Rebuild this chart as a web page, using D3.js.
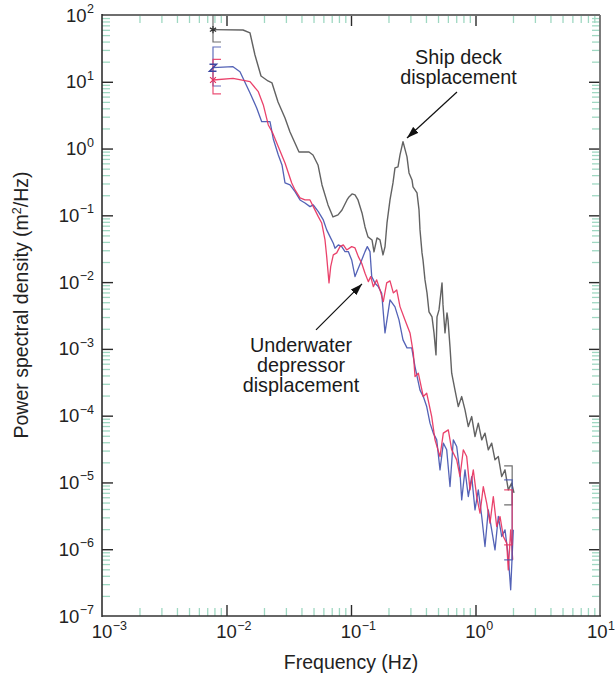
<!DOCTYPE html>
<html><head><meta charset="utf-8">
<script src="https://cdn.jsdelivr.net/npm/d3@7"></script>
<style>
body{margin:0;background:#fff}
svg{display:block;font-family:"Liberation Sans",Arial,Helvetica,sans-serif}
</style>
</head><body>
<svg id="chart" width="616" height="675"></svg>
<script>
// ---------------- data ----------------
const shipFreq=[0.00779,0.01357,0.01545,0.01693,0.01893,0.02154,0.0232,0.02593,0.02951,0.03236,0.03822,0.04599,0.04952,0.05432,0.05849,0.06536,0.07168,0.07864,0.08467,0.09288,0.09636,0.1019,0.1077,0.1138,0.1226,0.1296,0.1369,0.1475,0.1530,0.1617,0.1709,0.1807,0.1875,0.1946,0.2057,0.2174,0.2256,0.2385,0.2475,0.2616,0.2817,0.2924,0.3090,0.3148,0.3390,0.3518,0.3583,0.3718,0.3787,0.3929,0.4078,0.4232,0.4473,0.4642,0.4816,0.4907,0.5092,0.5383,0.5483,0.5689,0.5904,0.6014,0.6240,0.6439,0.6844,0.7275,0.7749,0.8235,0.8753,0.9322,0.9908,1.053,1.122,1.192,1.267,1.349,1.434,1.525,1.624,1.726,1.834,1.953,2.038];
const shipPsd=[60.3,59.6,53.8,25.2,12.2,10.28,9.59,4.985,2.872,1.772,0.8895,0.8895,0.802,0.568,0.285,0.1432,0.0946,0.1014,0.1204,0.170,0.1885,0.2091,0.2020,0.170,0.1086,0.0670,0.0475,0.0428,0.02832,0.0459,0.0428,0.02554,0.03363,0.0769,0.170,0.3055,0.5124,0.5305,0.802,1.268,0.7488,0.4311,0.3388,0.2661,0.2164,0.1204,0.0605,0.02736,0.0215,0.01079,0.00689,0.00358,0.003013,0.001736,0.000813,0.003013,0.003836,0.00973,0.004558,0.001736,0.003458,0.002717,0.001071,4.327e-4,2.413e-4,1.369e-4,1.931e-4,1.221e-4,6.87e-5,9.69e-5,4.87e-5,7.72e-5,4.34e-5,5.47e-5,3.08e-5,3.88e-5,2.18e-5,2.44e-5,1.226e-5,1.544e-5,7.75e-6,9.76e-6,6.99e-6];

const blueFreq=[0.00779,0.01128,0.01283,0.01545,0.01748,0.01918,0.02236,0.02376,0.02607,0.02791,0.02951,0.03236,0.0355,0.03894,0.0427,0.04685,0.0498,0.05462,0.05991,0.0638,0.06782,0.07208,0.07439,0.07907,0.0842,0.08951,0.09513,0.1013,0.1077,0.1145,0.1219,0.1296,0.1352,0.1421,0.1467,0.1559,0.1656,0.1764,0.1875,0.2057,0.2256,0.2429,0.2616,0.2817,0.3074,0.3267,0.3583,0.3808,0.4055,0.4311,0.4581,0.4880,0.5187,0.5514,0.5871,0.6240,0.6633,0.7063,0.7508,0.7749,0.8235,0.8753,0.9322,0.9908,1.053,1.122,1.192,1.267,1.349,1.434,1.525,1.624,1.726,1.834,1.917,2.012];
const bluePsd=[16.26,16.83,14.17,6.797,4.053,2.528,2.528,1.392,0.802,0.568,0.3055,0.285,0.2263,0.170,0.1533,0.1350,0.1432,0.1136,0.0853,0.0605,0.04799,0.03823,0.03217,0.03604,0.03399,0.02862,0.02862,0.0215,0.01209,0.01615,0.0215,0.02862,0.03399,0.02862,0.01209,0.00963,0.00856,0.00682,0.001736,0.005413,0.004253,0.002717,0.001364,0.001035,0.001035,5.43e-4,2.413e-4,1.931e-4,1.369e-4,7.72e-5,5.47e-5,4.34e-5,1.544e-5,3.88e-5,3.08e-5,8.68e-6,4.34e-5,3.45e-5,1.378e-5,5.49e-6,1.544e-5,6.15e-6,1.226e-5,3.89e-6,7.75e-6,3.09e-6,1.098e-6,3.89e-6,1.952e-6,9.79e-7,3.09e-6,1.55e-6,1.952e-6,7.77e-7,2.47e-7,1.952e-6];

const redFreq=[0.00779,0.01128,0.01545,0.01801,0.01976,0.02166,0.0235,0.02607,0.02951,0.0334,0.0355,0.03894,0.0427,0.04685,0.0498,0.05462,0.05817,0.06183,0.0638,0.06658,0.0687,0.07208,0.07676,0.08158,0.08672,0.09237,0.1013,0.1077,0.1145,0.1219,0.1296,0.1377,0.1440,0.1511,0.1608,0.1709,0.1817,0.1935,0.2057,0.2186,0.2329,0.2475,0.2714,0.2978,0.3166,0.3267,0.3473,0.3808,0.4055,0.4449,0.4728,0.5187,0.5514,0.6047,0.6439,0.7063,0.7508,0.7980,0.8497,0.9034,0.9601,1.022,1.087,1.155,1.230,1.308,1.390,1.480,1.574,1.673,1.781,1.834,1.917,1.990];
const redPsd=[10.64,11.28,10.03,7.109,4.495,2.256,1.712,1.068,0.6087,0.3055,0.2400,0.1822,0.170,0.170,0.1350,0.0956,0.0769,0.0428,0.02408,0.00973,0.01706,0.02554,0.02736,0.03399,0.03604,0.03034,0.03399,0.03251,0.02408,0.01919,0.01359,0.01017,0.01209,0.00856,0.01079,0.00764,0.005107,0.00973,0.01042,0.00689,0.00764,0.004297,0.002717,0.001736,8.71e-4,3.85e-4,4.327e-4,1.931e-4,2.172e-4,9.69e-5,4.34e-5,2.44e-5,5.47e-5,6.13e-5,3.08e-5,2.18e-5,1.226e-5,3.08e-5,2.44e-5,7.75e-6,1.544e-5,6.15e-6,3.47e-6,8.68e-6,4.90e-6,2.458e-6,6.15e-6,2.186e-6,3.09e-6,1.55e-6,1.234e-6,4.91e-7,1.952e-6,6.94e-7];

// error-bar brackets at the ends of each spectrum
const barSeries=["ship","blue","red","ship","blue","red"];
const barFreq=[0.00779,0.00779,0.00779,1.97,1.97,1.97];
const barLo=[39.4,8.65,6.57,4.62e-6,6.94e-7,1.164e-6];
const barHi=[100,33.2,21.7,1.772e-5,1.094e-5,7.75e-6];
const barSide=[1,1,1,-1,-1,-1];

const xTickExp=[-3,-2,-1,0,1];
const yTickExp=[2,1,0,-1,-2,-3,-4,-5,-6,-7];
const xTitle="Frequency (Hz)";
const yTitle=["Power spectral density (m","2","/Hz)"];
const shipLabel=["Ship deck","displacement"];
const underLabel=["Underwater","depressor","displacement"];

// ---------------- chart ----------------
const W=616;
const svg=d3.select("#chart");
const L=102,R=600,T=15,B=616;
const x=d3.scaleLog().domain([1e-3,10]).range([L,R]);
const y=d3.scaleLog().domain([1e-7,1e2]).range([B,T]);
const colors={ship:"#555555",blue:"#4455b0",red:"#e8325e"};
const minorCol="#9fd8c2", majorCol="#2a2a2a";

const xMinor=[],yMinor=[];
for(let e=-3;e<1;e++)for(let k=2;k<10;k++)xMinor.push(k*Math.pow(10,e));
for(let e=-7;e<2;e++)for(let k=2;k<10;k++)yMinor.push(k*Math.pow(10,e));
const xMaj=xTickExp.slice(1,-1).map(e=>Math.pow(10,e));
const yMaj=yTickExp.slice(1,-1).map(e=>Math.pow(10,e));

function styleAxis(g,col,w){g.select(".domain").remove();g.selectAll(".tick text").remove();g.selectAll(".tick line").attr("stroke",col).attr("stroke-width",w);}
svg.append("g").attr("transform",`translate(0,${B})`).call(d3.axisBottom(x).tickValues(xMinor).tickSize(-8)).call(g=>styleAxis(g,minorCol,1.3));
svg.append("g").attr("transform",`translate(0,${T})`).call(d3.axisTop(x).tickValues(xMinor).tickSize(-8)).call(g=>styleAxis(g,minorCol,1.3));
svg.append("g").attr("transform",`translate(${L},0)`).call(d3.axisLeft(y).tickValues(yMinor).tickSize(-8)).call(g=>styleAxis(g,minorCol,1.3));
svg.append("g").attr("transform",`translate(${R},0)`).call(d3.axisRight(y).tickValues(yMinor).tickSize(-8)).call(g=>styleAxis(g,minorCol,1.3));
svg.append("g").attr("transform",`translate(0,${B})`).call(d3.axisBottom(x).tickValues(xMaj).tickSize(-11)).call(g=>styleAxis(g,majorCol,1.4));
svg.append("g").attr("transform",`translate(0,${T})`).call(d3.axisTop(x).tickValues(xMaj).tickSize(-11)).call(g=>styleAxis(g,majorCol,1.4));
svg.append("g").attr("transform",`translate(${L},0)`).call(d3.axisLeft(y).tickValues(yMaj).tickSize(-11)).call(g=>styleAxis(g,majorCol,1.4));
svg.append("g").attr("transform",`translate(${R},0)`).call(d3.axisRight(y).tickValues(yMaj).tickSize(-11)).call(g=>styleAxis(g,majorCol,1.4));

// frame
svg.append("line").attr("x1",L).attr("x2",R).attr("y1",T).attr("y2",T).attr("stroke","#6e6e6e").attr("stroke-width",2);
svg.append("line").attr("x1",R).attr("x2",R).attr("y1",T).attr("y2",B).attr("stroke","#6e6e6e").attr("stroke-width",1.8);
svg.append("line").attr("x1",L).attr("x2",L).attr("y1",T-1).attr("y2",B+1).attr("stroke","#222").attr("stroke-width",1.5);
svg.append("line").attr("x1",L).attr("x2",R+1).attr("y1",B).attr("y2",B).attr("stroke","#333").attr("stroke-width",1.6);

// tick labels
const fs=18.5, sfs=12.5;
xTickExp.forEach(e=>{
  let px=x(Math.pow(10,e));
  const t=svg.append("text").attr("x",px).attr("y",B+22).attr("text-anchor","middle").attr("font-size",fs).attr("fill","#222").text("10");
  const w=t.node().getComputedTextLength();
  const s=svg.append("text").attr("y",B+14).attr("font-size",sfs).attr("fill","#222").text(e<0?"\u2212"+(-e):String(e));
  const sw=s.node().getComputedTextLength();
  let sx=px+w/2+0.5;
  if(sx+sw>W-1){ const shift=sx+sw-(W-1); sx-=shift; t.attr("x",px-shift); }
  s.attr("x",sx);
});
yTickExp.forEach(e=>{
  const py=y(Math.pow(10,e));
  const s=svg.append("text").attr("x",L-8).attr("y",py-2).attr("text-anchor","end").attr("font-size",sfs).attr("fill","#222").text(e<0?"\u2212"+(-e):String(e));
  const sw=s.node().getComputedTextLength();
  svg.append("text").attr("x",L-8-sw-0.5).attr("y",py+6.5).attr("text-anchor","end").attr("font-size",fs).attr("fill","#222").text("10");
});

// axis titles
svg.append("text").attr("x",(L+R)/2).attr("y",669).attr("text-anchor","middle").attr("font-size",19.5).attr("fill","#222").text(xTitle);
const yt=svg.append("text").attr("transform",`translate(28,305) rotate(-90)`).attr("text-anchor","middle").attr("font-size",19.5).attr("fill","#222");
yt.append("tspan").text(yTitle[0]);
yt.append("tspan").attr("font-size",12.5).attr("dy",-7).text(yTitle[1]);
yt.append("tspan").attr("dy",7).text(yTitle[2]);

// spectra
const line=d3.line().x(d=>x(d[0])).y(d=>y(d[1]));
const series=[
  {key:"blue",f:blueFreq,p:bluePsd,w:1.3},
  {key:"red",f:redFreq,p:redPsd,w:1.3},
  {key:"ship",f:shipFreq,p:shipPsd,w:1.4}
];
svg.append("clipPath").attr("id","clip").append("rect").attr("x",L).attr("y",T).attr("width",R-L).attr("height",B-T);
const plot=svg.append("g").attr("clip-path","url(#clip)");
series.forEach(s=>{
  plot.append("path").datum(d3.zip(s.f,s.p)).attr("d",line).attr("fill","none")
    .attr("stroke",colors[s.key]).attr("stroke-width",s.w).attr("stroke-linejoin","round").attr("stroke-opacity",0.92);
});

// brackets
barSeries.forEach((k,i)=>{
  const px=x(barFreq[i]), y1=y(barHi[i]), y2=y(barLo[i]), d=barSide[i]*8;
  plot.append("path").attr("d",`M${px+d},${y1}H${px}V${y2}H${px+d}`).attr("fill","none")
    .attr("stroke",colors[k]).attr("stroke-width",1.2).attr("stroke-opacity",0.85);
});
// start markers
const sym=svg.append("g");
sym.append("path").attr("transform",`translate(${x(shipFreq[0])},${y(shipPsd[0])})`)
  .attr("d",d3.symbol(d3.symbolAsterisk,36)()).attr("stroke","#333").attr("stroke-width",1.2).attr("fill","none");
sym.append("path").attr("transform",`translate(${x(blueFreq[0])},${y(bluePsd[0])})`)
  .attr("d","M-3.5,-3.5H3.5L-3.5,3.5H3.5").attr("stroke","#3a45a0").attr("stroke-width",1.5).attr("fill","none");
sym.append("path").attr("transform",`translate(${x(redFreq[0])},${y(redPsd[0])})`)
  .attr("d",d3.symbol(d3.symbolTimes,24)()).attr("stroke",colors.red).attr("stroke-width",1.2).attr("fill","none");

// annotations
const defs=svg.append("defs");
defs.append("marker").attr("id","arr").attr("viewBox","0 0 12 8").attr("refX",12).attr("refY",4)
  .attr("markerWidth",12).attr("markerHeight",8).attr("markerUnits","userSpaceOnUse").attr("orient","auto")
  .append("path").attr("d","M0,0L12,4L0,8z").attr("fill","#111");
const arrows=[[0.7102,7.036,0.2817,1.441],[0.05235,0.001925,0.1226,0.0094]];
arrows.forEach(a=>{
  svg.append("line").attr("x1",x(a[0])).attr("y1",y(a[1])).attr("x2",x(a[2])).attr("y2",y(a[3]))
    .attr("stroke","#111").attr("stroke-width",1.2).attr("marker-end","url(#arr)");
});
function label(lines,f,p,lh){
  lines.forEach((s,i)=>svg.append("text").attr("x",x(f)).attr("y",y(p)+i*lh).attr("text-anchor","middle")
    .attr("font-size",19.8).attr("fill","#1a1a1a").text(s));
}
label(shipLabel,0.7303,18.5,20);
label(underLabel,0.03967,9.0e-4,20);
</script>
</body></html>
